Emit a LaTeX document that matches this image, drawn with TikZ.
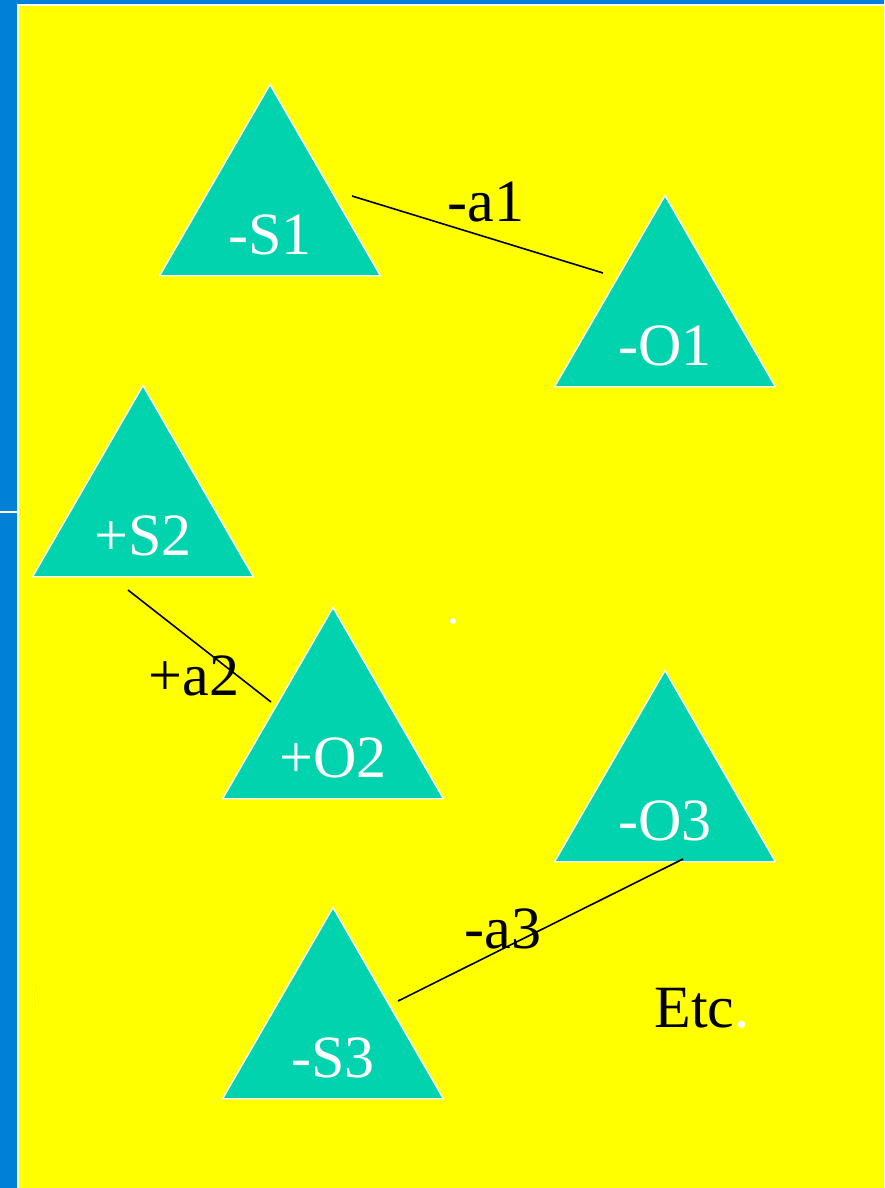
\documentclass[tikz,border=0pt]{standalone}
\usepackage{fontspec}
\setmainfont{Liberation Serif}
\usetikzlibrary{shapes.geometric,calc}
\definecolor{Frame}{HTML}{0080D6}
\definecolor{Field}{HTML}{FFFF00}
\definecolor{Teal}{HTML}{00D3AE}
\tikzset{
  tri/.style={regular polygon, regular polygon sides=3, minimum size=255pt,
              inner sep=0pt, fill=Teal, draw=white, line width=1.4pt,
              label={[tritext, anchor=base, yshift=22pt]south:#1}},
  tritext/.style={text=white, font=\fontsize{60}{62}\selectfont, inner sep=0pt},
  rel/.style={text=black, font=\fontsize{60}{62}\selectfont, inner sep=0pt, anchor=base},
  link/.style={draw=black, line width=1.6pt},
}
\begin{document}
\begin{tikzpicture}[x=1pt, y=-1pt]
  % frame
  \fill[Frame] (0,0) rectangle (884,1188);
  \fill[white] (17,4.3) rectangle (884,1188);
  \fill[Field] (19,6) rectangle (884,1188);
  \fill[white] (0,510.5) rectangle (17,512.5);
  \fill[white] (32.8,987) rectangle (34.2,1002);
  \fill[white] (453,621) circle (3);
  \useasboundingbox (0,0) rectangle (884,1188);

  % triangles
  \node[tri=-S1] (S1) at (270,212) {};
  \node[tri=-O1] (O1) at (665,323) {};
  \node[tri=+S2] (S2) at (143,513) {};
  \node[tri=+O2] (O2) at (333,735) {};
  \node[tri=-O3] (O3) at (665,798) {};
  \node[tri=-S3] (S3) at (333,1035) {};

  % connector ends
  \coordinate (a1s) at (352,196);
  \coordinate (a1e) at (603,273);
  \coordinate (a2s) at (128,590);
  \coordinate (a2e) at (271,702);
  \coordinate (a3s) at (398,1001);
  \coordinate (a3e) at (683,859);

  \draw[link] (a1s) -- (a1e);
  \draw[link] (a2s) -- (a2e);
  \draw[link] (a3s) -- (a3e);

  \node[rel] (a1) at (486,221) {-a1};
  \node[rel] (a2) at (194,695) {+a2};
  \node[rel] (a3) at (503,948) {-a3};
  \node[rel] (etc) at (702,1027) {Etc\textcolor{white}{.}};
\end{tikzpicture}
\end{document}
